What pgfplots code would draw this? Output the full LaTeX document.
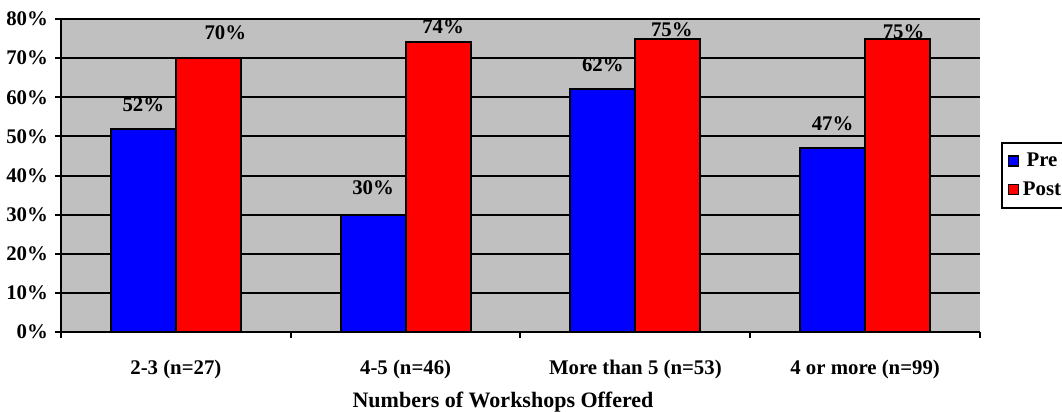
\documentclass[border=0pt]{standalone}
\usepackage{fontspec}
\setmainfont{Liberation Serif}
\usepackage{pgfplots}
\pgfplotsset{compat=1.18}
\usepackage{pgfplotstable}

\definecolor{plotgray}{RGB}{192,192,192}
\definecolor{preblue}{RGB}{0,0,255}
\definecolor{postred}{RGB}{255,0,0}

\newcommand{\chartfont}{\fontsize{10.4}{12}\selectfont\bfseries}

% x: category index, y: percent, dx/dy: label offset (pt) from bar top
\pgfplotstableread{
x y dx dy
0 52 0 11.75
1 30 0 13.5
2 62 0 12.5
3 47 0 12
}\predata
\pgfplotstableread{
x y dx dy
0 70 8.5 12.5
1 74 2.5 7.75
2 75 2 4.3
3 75 3 3.3
}\postdata

\begin{document}
\begin{tikzpicture}
\useasboundingbox (-30.5pt,-40pt) rectangle (500.5pt,166pt);
\begin{axis}[
  at={(0pt,0pt)}, anchor=south west,
  scale only axis, width=459.5pt, height=156.5pt,
  xmin=-0.5, xmax=3.5, ymin=0, ymax=80,
  ybar=0pt, bar width=32.5pt,
  axis background/.style={fill=plotgray},
  axis x line*=bottom, axis y line*=left,
  axis line style={line width=1pt, black, -},
  ymajorgrids, grid style={line width=1pt, black},
  tick align=outside,
  major tick length=3pt, minor tick length=3pt,
  tick style={line width=1pt, black},
  xtick={0,1,2,3},
  xticklabels={2-3 (n=27), 4-5 (n=46), More than 5 (n=53), 4 or more (n=99)},
  major x tick style={draw=none},
  minor xtick={-0.5,0.5,1.5,2.5,3.5},
  ytick={0,10,...,80},
  yticklabels={0\%,10\%,20\%,30\%,40\%,50\%,60\%,70\%,80\%},
  ticklabel style={font=\chartfont},
  xticklabel style={anchor=center, yshift=-15.5pt},
  yticklabel style={anchor=east},
  xlabel={Numbers of Workshops Offered},
  xlabel style={at={(axis description cs:0.481,0)}, anchor=center, yshift=-35pt,
    font=\fontsize{11}{13}\selectfont\bfseries},
  /pgf/number format/assume math mode=true,
  visualization depends on={\thisrow{dx} \as \labdx},
  visualization depends on={\thisrow{dy} \as \labdy},
  nodes near coords={\pgfmathprintnumber{\pgfplotspointmeta}\%},
  nodes near coords style={font=\chartfont, black,
    anchor=center, xshift=\labdx pt, yshift=\labdy pt},
  legend style={at={(axis description cs:1.0229,0.607)}, anchor=north west,
    draw=black, line width=0.75pt, fill=white,
    font=\chartfont,
    inner xsep=3pt, inner ysep=3pt, row sep=2pt},
  legend image code/.code={\draw[#1, line width=0.6pt] (0pt,-2.5pt) rectangle (5pt,2.5pt);},
]
\addplot[fill=preblue, draw=black, line width=1pt] table[x=x, y=y] {\predata};
\addplot[fill=postred, draw=black, line width=1pt] table[x=x, y=y] {\postdata};
\legend{Pre, Post}
\end{axis}
\end{tikzpicture}
\end{document}
